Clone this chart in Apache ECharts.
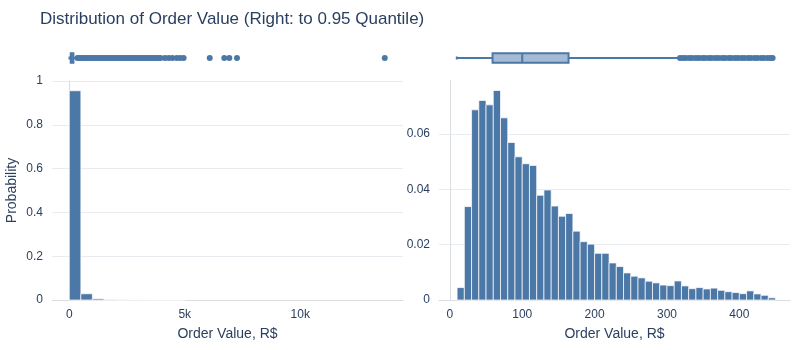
<!DOCTYPE html>
<html>
<head>
<meta charset="utf-8">
<script src="https://cdn.jsdelivr.net/npm/echarts@6/dist/echarts.min.js"></script>
<style>html,body{margin:0;padding:0;background:#fff}#c{width:800px;height:350px}</style>
</head>
<body>
<div id="c"></div>
<script>
// ---- data ----
const titleText = 'Distribution of Order Value (Right: to 0.95 Quantile)';
const xAxisTitle = 'Order Value, R$';
const yAxisTitle = 'Probability';

// Left: full distribution, bin edges (R$) and probability per bin
const leftBinEdges = [0, 500, 1000, 1500, 2000, 2500, 3000, 3500, 4000, 4500, 5000];
const leftProb = [0.9555, 0.0285, 0.0055, 0.0013, 0.0006, 0.0003, 0.0002, 0.0001, 0.0001, 0.0001];
// Left box: [min, Q1, median, Q3, upper whisker]
const leftBox = [9.6, 62, 105, 177, 349];
const leftOutliers = [352, 440, 525, 610, 700, 790, 880, 975, 1060, 1150, 1240, 1330, 1420, 1510, 1600,
  1690, 1785, 1870, 1960, 2050, 2140, 2230, 2320, 2410, 2500, 2590, 2680, 2770, 2860, 2950, 3040,
  3130, 3220, 3310, 3400, 3500, 3590, 3690, 3790, 3880, 3950, 4140, 4300, 4460, 4650, 4800, 4950,
  6080, 6710, 6930, 7260, 13660];
const leftTickLabels = { 0: '0', 5000: '5k', 10000: '10k' };

// Right: up to 0.95 quantile
const rightBinEdges = [10, 20, 30, 40, 50, 60, 70, 80, 90, 100, 110, 120, 130, 140, 150, 160, 170, 180,
  190, 200, 210, 220, 230, 240, 250, 260, 270, 280, 290, 300, 310, 320, 330, 340, 350, 360, 370, 380,
  390, 400, 410, 420, 430, 440, 450];
const rightProb = [0.0045, 0.0338, 0.0688, 0.0722, 0.0706, 0.0758, 0.0659, 0.0570, 0.0518, 0.0493,
  0.0487, 0.0379, 0.0398, 0.0340, 0.0303, 0.0313, 0.0249, 0.0211, 0.0202, 0.0169, 0.0169, 0.0134,
  0.0121, 0.0098, 0.0086, 0.0080, 0.0068, 0.0062, 0.0054, 0.0052, 0.0069, 0.0051, 0.0041, 0.0045,
  0.0040, 0.0043, 0.0035, 0.0030, 0.0027, 0.0023, 0.0033, 0.0022, 0.0017, 0.0008];
const rightBox = [9.6, 59, 100, 164, 317];
const rightOutliers = [318, 322, 326, 331, 335, 340, 344, 349, 353, 358, 362, 367, 371, 376, 380, 385,
  389, 394, 398, 403, 407, 412, 416, 421, 425, 430, 434, 439, 443, 446];
const rightTickLabels = { 0: '0', 100: '100', 200: '200', 300: '300', 400: '400' };

// ---- styles ----
const BLUE = '#4c78a8';
const TXT = '#2a3f5f';
const GRID = '#e8ebf0';
const AXL = '#dadde2';
const FONT = '"Liberation Sans", Arial, sans-serif';

function binData(edges, probs) {
  return probs.map((p, i) => [edges[i], edges[i + 1], p]);
}
function histRender(params, api) {
  const p0 = api.coord([api.value(0), api.value(2)]);
  const p1 = api.coord([api.value(1), 0]);
  return {
    type: 'rect',
    shape: { x: p0[0], y: p0[1], width: p1[0] - p0[0], height: p1[1] - p0[1] },
    style: { fill: BLUE, stroke: 'rgba(255,255,255,0.7)', lineWidth: 1 }
  };
}
function boxRender(params, api) {
  const y = api.coord([0, 0])[1];
  const h = 4.7;
  const xs = [0, 1, 2, 3, 4].map(i => api.coord([api.value(i), 0])[0]);
  const ls = { stroke: BLUE, lineWidth: 2 };
  return {
    type: 'group',
    children: [
      { type: 'line', shape: { x1: xs[0], y1: y, x2: xs[1], y2: y }, style: ls },
      { type: 'line', shape: { x1: xs[3], y1: y, x2: xs[4], y2: y }, style: ls },
      { type: 'line', shape: { x1: xs[0], y1: y - 1.5, x2: xs[0], y2: y + 1.5 }, style: ls },
      { type: 'rect', shape: { x: xs[1], y: y - h, width: xs[3] - xs[1], height: 2 * h },
        style: { fill: 'rgba(76,120,168,0.5)', stroke: BLUE, lineWidth: 2 } },
      { type: 'line', shape: { x1: xs[2], y1: y - h, x2: xs[2], y2: y + h }, style: ls }
    ]
  };
}

// axis extents chosen so that min is a multiple of the tick step
const leftRange = { min: -750, max: 14450, step: 50 };
const rightRange = { min: -15, max: 470, step: 5 };

const hiddenX = (r, gi) => ({ type: 'value', gridIndex: gi, min: r.min, max: r.max, show: false });
const hiddenY = gi => ({ type: 'value', gridIndex: gi, min: -1, max: 1, show: false });

function histX(r, gi, labels) {
  return {
    type: 'value', gridIndex: gi, min: r.min, max: r.max, interval: r.step,
    name: xAxisTitle, nameLocation: 'middle', nameGap: 27,
    nameTextStyle: { color: TXT, fontSize: 14, fontFamily: FONT },
    axisLine: { show: true, lineStyle: { color: AXL } },
    axisTick: { show: false },
    splitLine: { show: false },
    axisLabel: {
      color: TXT, fontSize: 12, fontFamily: FONT, margin: 9,
      formatter: v => (labels[Math.round(v)] !== undefined && Math.abs(v - Math.round(v)) < 1e-6) ? labels[Math.round(v)] : ''
    }
  };
}

const option = {
  animation: false,
  backgroundColor: '#fff',
  title: {
    text: titleText, left: 40, top: 11, padding: 0,
    textStyle: { color: TXT, fontSize: 17, fontWeight: 'normal', fontFamily: FONT }
  },
  grid: [
    { left: 52, width: 351, top: 48, height: 20 },
    { left: 52, width: 351, top: 81, height: 219 },
    { left: 439, width: 351, top: 48, height: 20 },
    { left: 439, width: 351, top: 80, height: 220 }
  ],
  xAxis: [
    hiddenX(leftRange, 0),
    histX(leftRange, 1, leftTickLabels),
    hiddenX(rightRange, 2),
    histX(rightRange, 3, rightTickLabels)
  ],
  yAxis: [
    hiddenY(0),
    {
      type: 'value', gridIndex: 1, min: 0, max: 1, interval: 0.2,
      name: yAxisTitle, nameLocation: 'middle', nameGap: 33,
      nameTextStyle: { color: TXT, fontSize: 14, fontFamily: FONT },
      axisLine: { show: true, lineStyle: { color: AXL } },
      axisTick: { show: false },
      splitLine: { show: true, lineStyle: { color: GRID } },
      axisLabel: { color: TXT, fontSize: 12, fontFamily: FONT, margin: 9 }
    },
    hiddenY(2),
    {
      type: 'value', gridIndex: 3, min: 0, max: 0.0796, interval: 0.02,
      axisLine: { show: true, lineStyle: { color: AXL } },
      axisTick: { show: false },
      splitLine: { show: true, showMaxLine: false, lineStyle: { color: GRID } },
      axisLabel: { color: TXT, fontSize: 12, fontFamily: FONT, margin: 9, showMaxLabel: false }
    }
  ],
  series: [
    {
      type: 'custom', xAxisIndex: 0, yAxisIndex: 0, renderItem: boxRender,
      data: [leftBox], encode: { x: [0, 1, 2, 3, 4] }, z: 2
    },
    {
      type: 'scatter', xAxisIndex: 0, yAxisIndex: 0, symbolSize: 6,
      itemStyle: { color: BLUE, opacity: 1 },
      data: leftOutliers.map(v => [v, 0]), z: 3
    },
    {
      type: 'custom', xAxisIndex: 1, yAxisIndex: 1, renderItem: histRender,
      data: binData(leftBinEdges, leftProb), encode: { x: [0, 1], y: 2 }
    },
    {
      type: 'custom', xAxisIndex: 2, yAxisIndex: 2, renderItem: boxRender,
      data: [rightBox], encode: { x: [0, 1, 2, 3, 4] }, z: 2
    },
    {
      type: 'scatter', xAxisIndex: 2, yAxisIndex: 2, symbolSize: 6,
      itemStyle: { color: BLUE, opacity: 1 },
      data: rightOutliers.map(v => [v, 0]), z: 3
    },
    {
      type: 'custom', xAxisIndex: 3, yAxisIndex: 3, renderItem: histRender,
      data: binData(rightBinEdges, rightProb), encode: { x: [0, 1], y: 2 }
    }
  ]
};

const chart = echarts.init(document.getElementById('c'), null, { renderer: 'canvas' });
chart.setOption(option);
</script>
</body>
</html>
